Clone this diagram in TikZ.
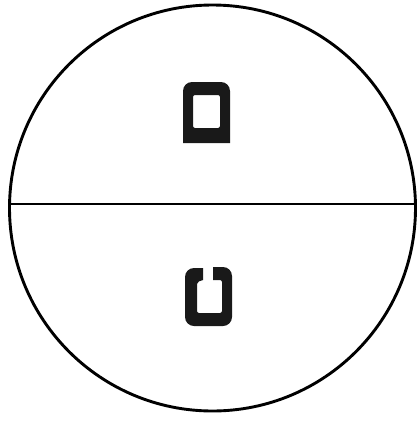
\documentclass[tikz,border=0pt]{standalone}
\usetikzlibrary{positioning}

\begin{document}
\begin{tikzpicture}[
        x=1pt, y=-1pt,
        rim/.style={draw, line width=2.9pt},
        split/.style={draw, line width=1.6pt},
        blot/.style={fill=black!90, even odd rule}
    ]
%
    % Frame
    \useasboundingbox (0,0) rectangle (419,421);
    \coordinate (centre) at (212.5,208);
    \draw[rim] (centre) circle[radius=203];
%
    % Dividing line
    \coordinate (west) at (9.5,204);
    \coordinate (east) at (415.5,204);
    \draw[split] (west) -- (east);
%
    % Upper mark
    \fill[blot] (183,143) [rounded corners=9] -- (183,82) -- (230,82) [sharp corners] -- (230,143) -- cycle
        [rounded corners=2] (193,95) rectangle (220,128);
%
    % Lower mark
    \fill[blot] [rounded corners=9] (203,268) -- (185,268) -- (185,326) -- (232,326) -- (232,267)
        [sharp corners] -- (213,267) -- (213,280) [rounded corners=2] -- (222,280) -- (222,313) -- (197,313) -- (197,282) [sharp corners] -- (203,280) -- cycle;
%
\end{tikzpicture}
\end{document}
